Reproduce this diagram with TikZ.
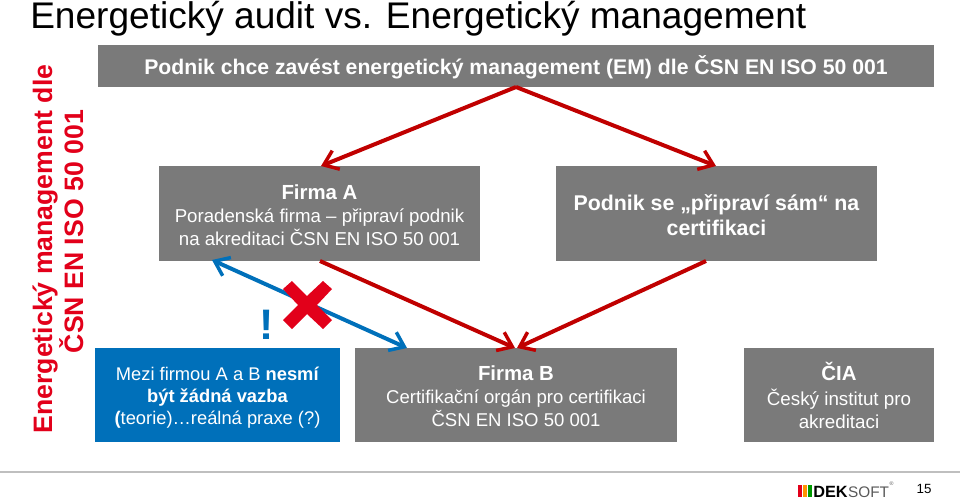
\documentclass[tikz,border=0pt]{standalone}
\usepackage{fontspec}
\setmainfont{Liberation Sans}
\definecolor{boxgray}{HTML}{7A7A7A}
\definecolor{ebblue}{HTML}{0070BA}
\definecolor{arrred}{HTML}{C00000}
\definecolor{xred}{HTML}{E2001A}
\usetikzlibrary{arrows.meta}
\tikzset{
 gbox/.style={fill=boxgray,text=white,inner sep=0pt,align=center},
 redarr/.style={draw=arrred,line width=3pt,-{Straight Barb[length=10pt,width=15pt,line width=2.6pt]}},
 bluearr/.style={draw=ebblue,line width=3pt,{Straight Barb[length=10pt,width=15pt,line width=2.6pt]}-{Straight Barb[length=10pt,width=15pt,line width=2.6pt]}},
}
\newcommand{\ttlfont}{\bfseries\fontsize{15.3}{17.5}\selectfont}
\newcommand{\bodyfont}[1]{\fontsize{#1}{17.5}\selectfont}
\newcommand{\dn}[2]{\raisebox{-#1pt}[\height][\depth]{#2}}
\begin{document}
\begin{tikzpicture}[x=0.75pt,y=-0.75pt]
\useasboundingbox (0,0) rectangle (960,500);
\node[anchor=base west,inner sep=0pt,font=\fontsize{27.8}{30}\selectfont] (title) at (30,28) {Energetický audit vs. Energetický management};
\node[anchor=center,rotate=90,text=xred,align=center,inner sep=0pt,font=\bfseries\fontsize{20}{22}\selectfont] (side) at (58,249) {Energetický management dle\\\hspace*{26pt}ČSN EN ISO 50 001};
\node[gbox,minimum width=627pt,minimum height=31.5pt,font=\bfseries\fontsize{15.9}{18}\selectfont] (hdr) at (516,66) {\dn{0.75}{Podnik chce zavést energetický management (EM) dle ČSN EN ISO 50 001}};
\node[gbox,minimum width=240.75pt,minimum height=71.25pt,font=\bodyfont{14}] (a) at (319.5,213.5) {\dn{1.5}{\ttlfont Firma A}\\\dn{1}{Poradenská firma – připraví podnik}\\\dn{1}{na akreditaci ČSN EN ISO 50 001}};
\node[gbox,minimum width=240.75pt,minimum height=71.25pt,font=\bfseries\fontsize{16}{19}\selectfont] (p) at (716.5,213.5) {\dn{1}{Podnik se „připraví sám“ na}\\\dn{0.75}{certifikaci}};
\node[minimum width=183.75pt,minimum height=70.5pt,fill=ebblue,text=white,inner sep=0pt,align=center,font=\fontsize{13.75}{16.5}\selectfont] (m) at (217.5,395) {\dn{2.2}{Mezi firmou A a B \textbf{nesmí}}\\\dn{2.2}{\textbf{být žádná vazba}}\\\dn{2.2}{\textbf{(}teorie)…reálná praxe (?)}};
\node[gbox,minimum width=241.5pt,minimum height=70.5pt,font=\bodyfont{13.9}] (b) at (516,395) {\dn{1.5}{\ttlfont Firma B}\\\dn{1}{Certifikační orgán pro certifikaci}\\\dn{1}{ČSN EN ISO 50 001}};
\node[gbox,minimum width=142.5pt,minimum height=70.5pt,font=\bodyfont{14.1}] (c) at (839,395) {{\ttlfont ČIA}\\\dn{0.75}{Český institut pro}\\\dn{0.75}{akreditaci}};
\coordinate (hs) at (516,87);
\coordinate (at) at (321,166);
\coordinate (pt) at (716,166);
\coordinate (as) at (320,261);
\coordinate (abl) at (212,260);
\coordinate (bt) at (515,348);
\coordinate (btb) at (407,348);
\coordinate (ps) at (706,261);
\coordinate (btr) at (517,348);
\draw[redarr] (hs) -- (at);
\draw[redarr] (hs) -- (pt);
\draw[redarr] (as) -- (bt);
\draw[redarr] (ps) -- (btr);
\draw[bluearr] (abl) -- (btb);
\node[text=ebblue,inner sep=0pt,font=\bfseries\fontsize{32}{32}\selectfont] (ex) at (267,325) {!};
\fill[xred] (283,289) -- (292,281) -- (307,296) -- (323,281) -- (332,289) -- (317,305) -- (332,320) -- (323,329) -- (307,314) -- (292,329) -- (283,320) -- (298,305) -- cycle;
\draw[gray!50,line width=1.2pt] (0,472) -- (960,472);
\node[anchor=base west,inner sep=0pt,font=\bfseries\fontsize{12.2}{12}\selectfont] (dek) at (813,497) {DEK};
\node[anchor=base west,inner sep=0pt,text=gray!70!black,font=\fontsize{11.5}{12}\selectfont] (soft) at (dek.base east) {SOFT};
\node[anchor=south west,inner sep=0pt,text=gray!70!black,font=\fontsize{4}{4}\selectfont] (reg) at (soft.north east) {®};
\node[inner sep=0pt,font=\fontsize{10}{10}\selectfont] (num) at (924,489) {15};
\fill[xred] (798,485) rectangle (802,497);
\fill[orange!85!yellow] (803,485) rectangle (807,497);
\fill[green!60!black] (808,485) rectangle (812,497);
\end{tikzpicture}
\end{document}
